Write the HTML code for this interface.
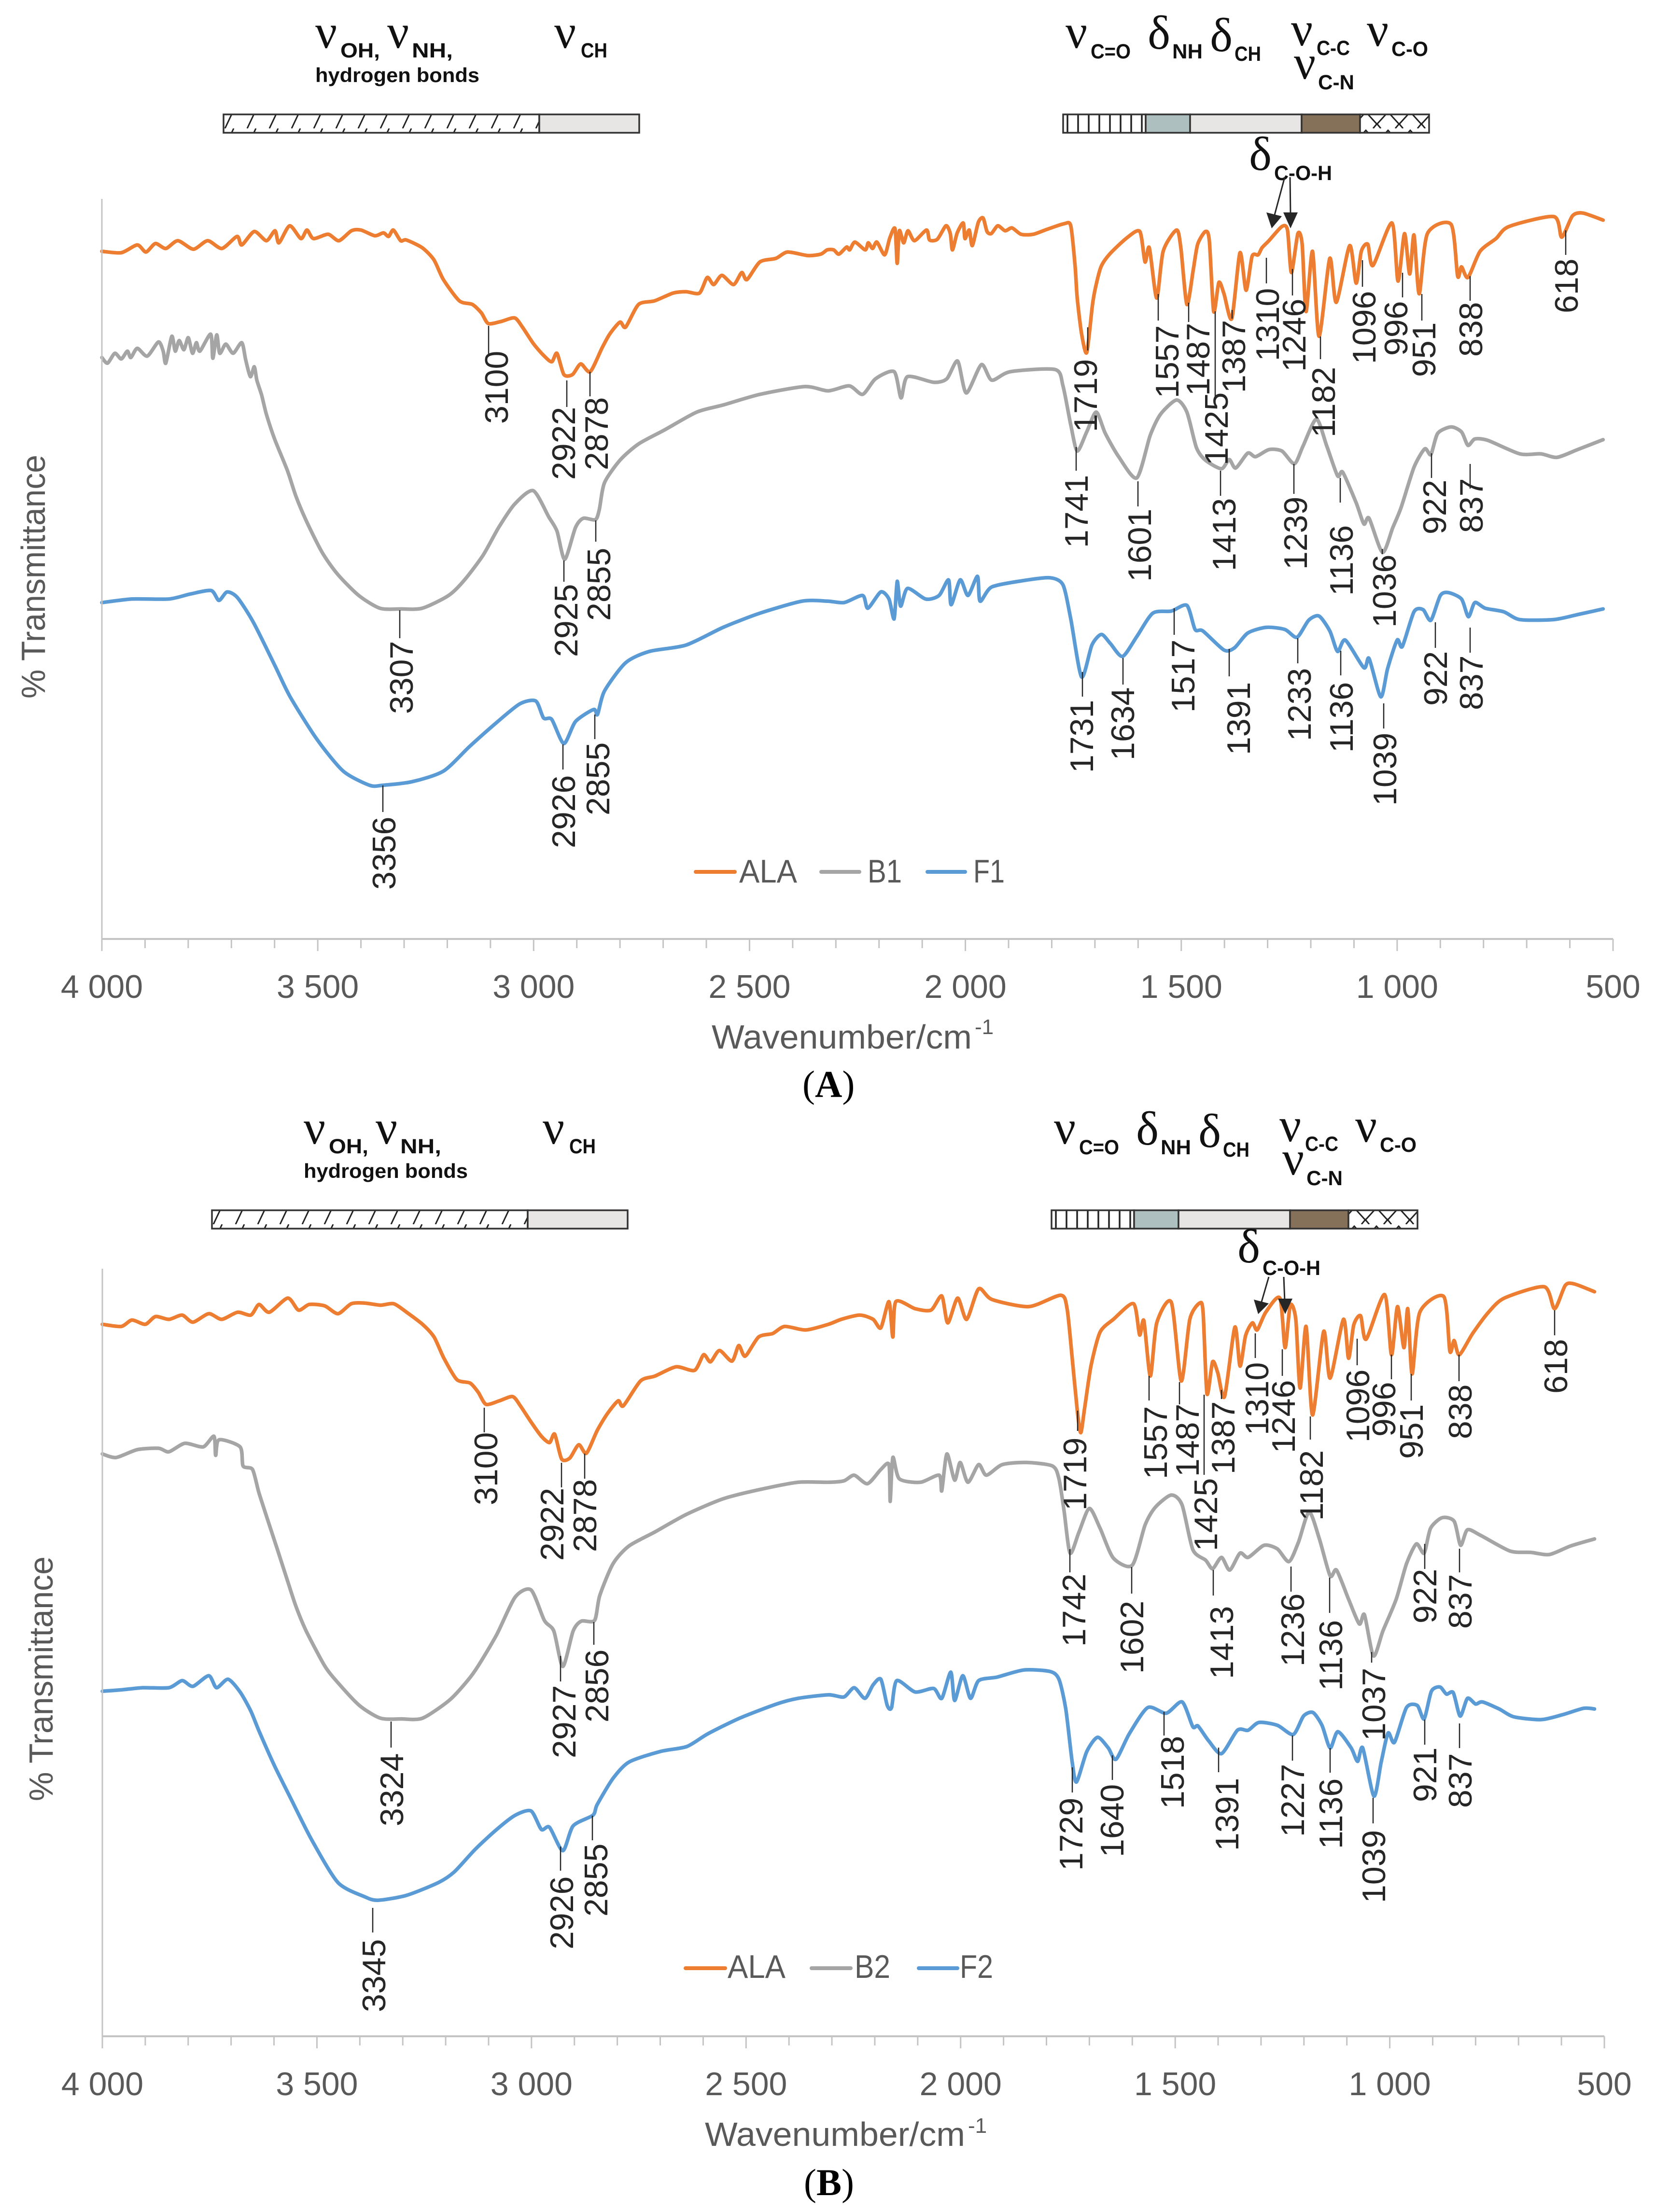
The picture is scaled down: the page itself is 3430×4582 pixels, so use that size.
<!DOCTYPE html>
<html lang="en">
<head>
<meta charset="utf-8">
<title>FTIR spectra of ALA, B1, F1, B2 and F2</title>
<style>
html,body{margin:0;padding:0;background:#fff}
svg{display:block}
.pk{font:68px "Liberation Sans",Arial,sans-serif;fill:#262626}
.ld{stroke:#262626;stroke-width:2.5}
.nu{font:100px "Liberation Serif","Times New Roman",serif;fill:#111}
.sb{font:bold 43px "Liberation Sans",Arial,sans-serif;fill:#111}
.hb{font:bold 42px "Liberation Sans",Arial,sans-serif;fill:#111}
.ax{font:68px "Liberation Sans",Arial,sans-serif;fill:#595959}
.ti{font:70px "Liberation Sans",Arial,sans-serif;fill:#595959}
.sup{font:44px "Liberation Sans",Arial,sans-serif;fill:#595959}
.cap{font:bold 78px "Liberation Serif","Times New Roman",serif;fill:#000}
.bd{stroke:#333;stroke-width:3.5}
</style>
</head>
<body>
<svg id="figure" xmlns="http://www.w3.org/2000/svg" width="3430" height="4582" viewBox="0 0 3430 4582">
<defs>
<pattern id="hatchDiag" width="46" height="38" patternUnits="userSpaceOnUse"><rect width="46" height="38" fill="#fff"/><path d="M6 38L24 0" stroke="#222" stroke-width="3"/></pattern>
<pattern id="hatchVert" width="22" height="38" patternUnits="userSpaceOnUse"><rect width="22" height="38" fill="#fff"/><path d="M11 0V38" stroke="#222" stroke-width="3.5"/></pattern>
<pattern id="hatchCross" width="46" height="38" patternUnits="userSpaceOnUse"><rect width="46" height="38" fill="#fff"/><path d="M-8 38L23 4L54 38M-2 26L8 38M48 26L38 38" stroke="#222" stroke-width="3" fill="none"/></pattern>
</defs>
<rect width="3430" height="4582" fill="#fff"/>

<g id="seriesA"></g>
<g id="seriesB"></g>
<g id="axesA"></g>
<g id="axesB"></g>

<g>
<text class="nu" x="653" y="99">ν</text><text class="sb" x="705" y="119" textLength="82" lengthAdjust="spacingAndGlyphs">OH,</text>
<text class="nu" x="802" y="99">ν</text><text class="sb" x="853" y="119" textLength="85" lengthAdjust="spacingAndGlyphs">NH,</text>
<text class="hb" x="653" y="170" textLength="340" lengthAdjust="spacingAndGlyphs">hydrogen bonds</text>
<text class="nu" x="1148" y="99">ν</text><text class="sb" x="1203" y="119" textLength="55" lengthAdjust="spacingAndGlyphs">CH</text>
<g>
<rect class="bd" x="463" y="237" width="654" height="38" fill="url(#hatchDiag)"/>
<rect class="bd" x="1117" y="237" width="207" height="38" fill="#E7E6E4"/>
</g>
<text class="nu" x="2207" y="99">ν</text><text class="sb" x="2259" y="121" textLength="83" lengthAdjust="spacingAndGlyphs">C=O</text>
<text class="nu" x="2377" y="101">δ</text><text class="sb" x="2428" y="121" textLength="63" lengthAdjust="spacingAndGlyphs">NH</text>
<text class="nu" x="2506" y="106">δ</text><text class="sb" x="2557" y="126" textLength="55" lengthAdjust="spacingAndGlyphs">CH</text>
<text class="nu" x="2674" y="94">ν</text><text class="sb" x="2727" y="114" textLength="69" lengthAdjust="spacingAndGlyphs">C-C</text>
<text class="nu" x="2831" y="95">ν</text><text class="sb" x="2882" y="116" textLength="76" lengthAdjust="spacingAndGlyphs">C-O</text>
<text class="nu" x="2680" y="163">ν</text><text class="sb" x="2730" y="185" textLength="75" lengthAdjust="spacingAndGlyphs">C-N</text>
<g>
<rect class="bd" x="2202" y="237" width="171" height="38" fill="url(#hatchVert)"/>
<rect class="bd" x="2373" y="237" width="92" height="38" fill="#AEBFC0"/>
<rect class="bd" x="2465" y="237" width="231" height="38" fill="#E7E6E4"/>
<rect class="bd" x="2696" y="237" width="121" height="38" fill="#85705A"/>
<rect class="bd" x="2817" y="237" width="143" height="38" fill="url(#hatchCross)"/>
</g>
<text class="nu" x="2587" y="352">δ</text><text class="sb" x="2639" y="373" textLength="120" lengthAdjust="spacingAndGlyphs">C-O-H</text>
<g>
<line x1="2661" y1="367" x2="2640" y2="445" stroke="#262626" stroke-width="3"/>
<polygon points="2634,473 2623,440 2655,448" fill="#262626"/>
<line x1="2672" y1="367" x2="2673" y2="445" stroke="#262626" stroke-width="3"/>
<polygon points="2673,473 2658,440 2688,440" fill="#262626"/>
</g>
</g>

<g transform="translate(-24,2270)">
<text class="nu" x="653" y="99">ν</text><text class="sb" x="705" y="119" textLength="82" lengthAdjust="spacingAndGlyphs">OH,</text>
<text class="nu" x="802" y="99">ν</text><text class="sb" x="853" y="119" textLength="85" lengthAdjust="spacingAndGlyphs">NH,</text>
<text class="hb" x="653" y="170" textLength="340" lengthAdjust="spacingAndGlyphs">hydrogen bonds</text>
<text class="nu" x="1148" y="99">ν</text><text class="sb" x="1203" y="119" textLength="55" lengthAdjust="spacingAndGlyphs">CH</text>
<g>
<rect class="bd" x="463" y="237" width="654" height="38" fill="url(#hatchDiag)"/>
<rect class="bd" x="1117" y="237" width="207" height="38" fill="#E7E6E4"/>
</g>
<text class="nu" x="2207" y="99">ν</text><text class="sb" x="2259" y="121" textLength="83" lengthAdjust="spacingAndGlyphs">C=O</text>
<text class="nu" x="2377" y="101">δ</text><text class="sb" x="2428" y="121" textLength="63" lengthAdjust="spacingAndGlyphs">NH</text>
<text class="nu" x="2506" y="106">δ</text><text class="sb" x="2557" y="126" textLength="55" lengthAdjust="spacingAndGlyphs">CH</text>
<text class="nu" x="2674" y="94">ν</text><text class="sb" x="2727" y="114" textLength="69" lengthAdjust="spacingAndGlyphs">C-C</text>
<text class="nu" x="2831" y="95">ν</text><text class="sb" x="2882" y="116" textLength="76" lengthAdjust="spacingAndGlyphs">C-O</text>
<text class="nu" x="2680" y="163">ν</text><text class="sb" x="2730" y="185" textLength="75" lengthAdjust="spacingAndGlyphs">C-N</text>
<g>
<rect class="bd" x="2202" y="237" width="171" height="38" fill="url(#hatchVert)"/>
<rect class="bd" x="2373" y="237" width="92" height="38" fill="#AEBFC0"/>
<rect class="bd" x="2465" y="237" width="231" height="38" fill="#E7E6E4"/>
<rect class="bd" x="2696" y="237" width="121" height="38" fill="#85705A"/>
<rect class="bd" x="2817" y="237" width="143" height="38" fill="url(#hatchCross)"/>
</g>
<text class="nu" x="2587" y="345">δ</text><text class="sb" x="2639" y="371" textLength="120" lengthAdjust="spacingAndGlyphs">C-O-H</text>
</g>
<g>
<line x1="2628" y1="2645" x2="2612" y2="2700" stroke="#262626" stroke-width="3"/>
<polygon points="2606,2722 2597,2692 2628,2700" fill="#262626"/>
<line x1="2659" y1="2645" x2="2661" y2="2695" stroke="#262626" stroke-width="3"/>
<polygon points="2662,2722 2647,2690 2677,2690" fill="#262626"/>
</g>

<g>
<g><line class="ld" x1="1012" y1="675" x2="1012" y2="733"/><text class="pk" transform="translate(1052,878) rotate(-90)">3100</text></g>
<g><line class="ld" x1="1174" y1="788" x2="1174" y2="843"/><text class="pk" transform="translate(1191,994) rotate(-90)">2922</text></g>
<g><line class="ld" x1="1222" y1="770" x2="1222" y2="821"/><text class="pk" transform="translate(1259,974) rotate(-90)">2878</text></g>
<g><line class="ld" x1="2253" y1="678" x2="2253" y2="726"/><text class="pk" transform="translate(2272,895) rotate(-90)">1719</text></g>
<g><line class="ld" x1="2399" y1="609" x2="2399" y2="664"/><text class="pk" transform="translate(2441,825) rotate(-90)">1557</text></g>
<g><line class="ld" x1="2462" y1="627" x2="2462" y2="667"/><text class="pk" transform="translate(2505,820) rotate(-90)">1487</text></g>
<g><line class="ld" x1="2517" y1="645" x2="2517" y2="821"/><text class="pk" transform="translate(2543,964) rotate(-90)">1425</text></g>
<g><line class="ld" x1="2552" y1="642" x2="2552" y2="660"/><text class="pk" transform="translate(2579,814) rotate(-90)">1387</text></g>
<g><line class="ld" x1="2623" y1="534" x2="2623" y2="587"/><text class="pk" transform="translate(2649,748) rotate(-90)">1310</text></g>
<g><line class="ld" x1="2677" y1="557" x2="2677" y2="612"/><text class="pk" transform="translate(2704,770) rotate(-90)">1246</text></g>
<g><line class="ld" x1="2735" y1="697" x2="2735" y2="744"/><text class="pk" transform="translate(2765,906) rotate(-90)">1182</text></g>
<g><line class="ld" x1="2822" y1="539" x2="2822" y2="594"/><text class="pk" transform="translate(2849,754) rotate(-90)">1096</text></g>
<g><line class="ld" x1="2905" y1="565" x2="2905" y2="616"/><text class="pk" transform="translate(2915,737) rotate(-90)">996</text></g>
<g><line class="ld" x1="2945" y1="609" x2="2945" y2="664"/><text class="pk" transform="translate(2973,781) rotate(-90)">951</text></g>
<g><line class="ld" x1="3045" y1="572" x2="3045" y2="623"/><text class="pk" transform="translate(3070,739) rotate(-90)">838</text></g>
<g><line class="ld" x1="3243" y1="477" x2="3243" y2="528"/><text class="pk" transform="translate(3268,649) rotate(-90)">618</text></g>

<g><line class="ld" x1="828" y1="1264" x2="828" y2="1322"/><text class="pk" transform="translate(855,1479) rotate(-90)">3307</text></g>
<g><line class="ld" x1="1168" y1="1161" x2="1168" y2="1205"/><text class="pk" transform="translate(1196,1361) rotate(-90)">2925</text></g>
<g><line class="ld" x1="1234" y1="1078" x2="1234" y2="1122"/><text class="pk" transform="translate(1264,1286) rotate(-90)">2855</text></g>
<g><line class="ld" x1="2229" y1="926" x2="2229" y2="975"/><text class="pk" transform="translate(2253,1135) rotate(-90)">1741</text></g>
<g><line class="ld" x1="2357" y1="997" x2="2357" y2="1049"/><text class="pk" transform="translate(2384,1205) rotate(-90)">1601</text></g>
<g><line class="ld" x1="2528" y1="975" x2="2528" y2="1027"/><text class="pk" transform="translate(2559,1183) rotate(-90)">1413</text></g>
<g><line class="ld" x1="2680" y1="961" x2="2680" y2="1023"/><text class="pk" transform="translate(2707,1180) rotate(-90)">1239</text></g>
<g><line class="ld" x1="2776" y1="990" x2="2776" y2="1041"/><text class="pk" transform="translate(2802,1234) rotate(-90)">1136</text></g>
<g><line class="ld" x1="2863" y1="1137" x2="2863" y2="1148"/><text class="pk" transform="translate(2891,1300) rotate(-90)">1036</text></g>
<g><line class="ld" x1="2965" y1="939" x2="2965" y2="990"/><text class="pk" transform="translate(2995,1107) rotate(-90)">922</text></g>
<g><line class="ld" x1="3045" y1="961" x2="3045" y2="1012"/><text class="pk" transform="translate(3071,1104) rotate(-90)">837</text></g>

<g><line class="ld" x1="793" y1="1627" x2="793" y2="1682"/><text class="pk" transform="translate(819,1843) rotate(-90)">3356</text></g>
<g><line class="ld" x1="1166" y1="1542" x2="1166" y2="1594"/><text class="pk" transform="translate(1191,1757) rotate(-90)">2926</text></g>
<g><line class="ld" x1="1232" y1="1480" x2="1232" y2="1531"/><text class="pk" transform="translate(1262,1689) rotate(-90)">2855</text></g>
<g><line class="ld" x1="2242" y1="1392" x2="2242" y2="1443"/><text class="pk" transform="translate(2264,1601) rotate(-90)">1731</text></g>
<g><line class="ld" x1="2326" y1="1363" x2="2326" y2="1418"/><text class="pk" transform="translate(2349,1575) rotate(-90)">1634</text></g>
<g><line class="ld" x1="2432" y1="1260" x2="2432" y2="1315"/><text class="pk" transform="translate(2474,1476) rotate(-90)">1517</text></g>
<g><line class="ld" x1="2546" y1="1344" x2="2546" y2="1401"/><text class="pk" transform="translate(2589,1564) rotate(-90)">1391</text></g>
<g><line class="ld" x1="2688" y1="1322" x2="2688" y2="1374"/><text class="pk" transform="translate(2715,1535) rotate(-90)">1233</text></g>
<g><line class="ld" x1="2777" y1="1348" x2="2777" y2="1399"/><text class="pk" transform="translate(2802,1559) rotate(-90)">1136</text></g>
<g><line class="ld" x1="2866" y1="1457" x2="2866" y2="1509"/><text class="pk" transform="translate(2892,1669) rotate(-90)">1039</text></g>
<g><line class="ld" x1="2973" y1="1289" x2="2973" y2="1342"/><text class="pk" transform="translate(2997,1462) rotate(-90)">922</text></g>
<g><line class="ld" x1="3045" y1="1300" x2="3045" y2="1352"/><text class="pk" transform="translate(3071,1471) rotate(-90)">837</text></g>
</g>

<g>
<g><line class="ld" x1="1003" y1="2916" x2="1003" y2="2967"/><text class="pk" transform="translate(1030,3118) rotate(-90)">3100</text></g>
<g><line class="ld" x1="1163" y1="3030" x2="1163" y2="3081"/><text class="pk" transform="translate(1167,3233) rotate(-90)">2922</text></g>
<g><line class="ld" x1="1211" y1="3011" x2="1211" y2="3063"/><text class="pk" transform="translate(1235,3215) rotate(-90)">2878</text></g>
<g><line class="ld" x1="2232" y1="2922" x2="2232" y2="2964"/><text class="pk" transform="translate(2250,3129) rotate(-90)">1719</text></g>
<g><line class="ld" x1="2380" y1="2850" x2="2380" y2="2901"/><text class="pk" transform="translate(2417,3064) rotate(-90)">1557</text></g>
<g><line class="ld" x1="2443" y1="2863" x2="2443" y2="2909"/><text class="pk" transform="translate(2483,3059) rotate(-90)">1487</text></g>
<g><line class="ld" x1="2494" y1="2889" x2="2494" y2="3055"/><text class="pk" transform="translate(2521,3213) rotate(-90)">1425</text></g>
<g><line class="ld" x1="2530" y1="2879" x2="2530" y2="2898"/><text class="pk" transform="translate(2557,3054) rotate(-90)">1387</text></g>
<g><line class="ld" x1="2600" y1="2762" x2="2600" y2="2813"/><text class="pk" transform="translate(2627,2973) rotate(-90)">1310</text></g>
<g><line class="ld" x1="2656" y1="2795" x2="2656" y2="2850"/><text class="pk" transform="translate(2682,3010) rotate(-90)">1246</text></g>
<g><line class="ld" x1="2714" y1="2934" x2="2714" y2="2982"/><text class="pk" transform="translate(2740,3150) rotate(-90)">1182</text></g>
<g><line class="ld" x1="2811" y1="2773" x2="2811" y2="2828"/><text class="pk" transform="translate(2836,2988) rotate(-90)">1096</text></g>
<g><line class="ld" x1="2882" y1="2806" x2="2882" y2="2857"/><text class="pk" transform="translate(2890,2976) rotate(-90)">996</text></g>
<g><line class="ld" x1="2923" y1="2846" x2="2923" y2="2901"/><text class="pk" transform="translate(2947,3022) rotate(-90)">951</text></g>
<g><line class="ld" x1="3022" y1="2806" x2="3022" y2="2861"/><text class="pk" transform="translate(3048,2981) rotate(-90)">838</text></g>
<g><line class="ld" x1="3220" y1="2714" x2="3220" y2="2766"/><text class="pk" transform="translate(3246,2887) rotate(-90)">618</text></g>

<g><line class="ld" x1="810" y1="3566" x2="810" y2="3620"/><text class="pk" transform="translate(835,3783) rotate(-90)">3324</text></g>
<g><line class="ld" x1="1161" y1="3430" x2="1161" y2="3483"/><text class="pk" transform="translate(1192,3642) rotate(-90)">2927</text></g>
<g><line class="ld" x1="1230" y1="3360" x2="1230" y2="3407"/><text class="pk" transform="translate(1260,3568) rotate(-90)">2856</text></g>
<g><line class="ld" x1="2216" y1="3209" x2="2216" y2="3257"/><text class="pk" transform="translate(2248,3411) rotate(-90)">1742</text></g>
<g><line class="ld" x1="2344" y1="3246" x2="2344" y2="3301"/><text class="pk" transform="translate(2368,3467) rotate(-90)">1602</text></g>
<g><line class="ld" x1="2513" y1="3252" x2="2513" y2="3305"/><text class="pk" transform="translate(2554,3478) rotate(-90)">1413</text></g>
<g><line class="ld" x1="2674" y1="3245" x2="2674" y2="3297"/><text class="pk" transform="translate(2701,3452) rotate(-90)">1236</text></g>
<g><line class="ld" x1="2754" y1="3268" x2="2754" y2="3341"/><text class="pk" transform="translate(2780,3502) rotate(-90)">1136</text></g>
<g><line class="ld" x1="2841" y1="3422" x2="2841" y2="3444"/><text class="pk" transform="translate(2869,3606) rotate(-90)">1037</text></g>
<g><line class="ld" x1="2951" y1="3198" x2="2951" y2="3250"/><text class="pk" transform="translate(2975,3363) rotate(-90)">922</text></g>
<g><line class="ld" x1="3023" y1="3208" x2="3023" y2="3257"/><text class="pk" transform="translate(3048,3374) rotate(-90)">837</text></g>

<g><line class="ld" x1="772" y1="3952" x2="772" y2="4003"/><text class="pk" transform="translate(798,4168) rotate(-90)">3345</text></g>
<g><line class="ld" x1="1161" y1="3825" x2="1161" y2="3875"/><text class="pk" transform="translate(1187,4038) rotate(-90)">2926</text></g>
<g><line class="ld" x1="1227" y1="3761" x2="1227" y2="3812"/><text class="pk" transform="translate(1258,3970) rotate(-90)">2855</text></g>
<g><line class="ld" x1="2221" y1="3661" x2="2221" y2="3713"/><text class="pk" transform="translate(2242,3875) rotate(-90)">1729</text></g>
<g><line class="ld" x1="2304" y1="3636" x2="2304" y2="3687"/><text class="pk" transform="translate(2327,3847) rotate(-90)">1640</text></g>
<g><line class="ld" x1="2411" y1="3546" x2="2411" y2="3595"/><text class="pk" transform="translate(2452,3747) rotate(-90)">1518</text></g>
<g><line class="ld" x1="2524" y1="3620" x2="2524" y2="3671"/><text class="pk" transform="translate(2565,3834) rotate(-90)">1391</text></g>
<g><line class="ld" x1="2677" y1="3595" x2="2677" y2="3647"/><text class="pk" transform="translate(2701,3805) rotate(-90)">1227</text></g>
<g><line class="ld" x1="2755" y1="3621" x2="2755" y2="3672"/><text class="pk" transform="translate(2780,3830) rotate(-90)">1136</text></g>
<g><line class="ld" x1="2844" y1="3724" x2="2844" y2="3777"/><text class="pk" transform="translate(2869,3942) rotate(-90)">1039</text></g>
<g><line class="ld" x1="2951" y1="3562" x2="2951" y2="3614"/><text class="pk" transform="translate(2975,3733) rotate(-90)">921</text></g>
<g><line class="ld" x1="3023" y1="3570" x2="3023" y2="3621"/><text class="pk" transform="translate(3048,3745) rotate(-90)">837</text></g>
</g>

<g>
<g><line x1="1441" y1="1806" x2="1522" y2="1806" stroke="#ED7D31" stroke-width="8" stroke-linecap="round"/><text class="ax" x="1531" y="1828" textLength="120" lengthAdjust="spacingAndGlyphs">ALA</text></g>
<g><line x1="1701" y1="1806" x2="1780" y2="1806" stroke="#A5A5A5" stroke-width="8" stroke-linecap="round"/><text class="ax" x="1797" y="1828" textLength="71" lengthAdjust="spacingAndGlyphs">B1</text></g>
<g><line x1="1921" y1="1806" x2="1999" y2="1806" stroke="#5B9BD5" stroke-width="8" stroke-linecap="round"/><text class="ax" x="2016" y="1828" textLength="65" lengthAdjust="spacingAndGlyphs">F1</text></g>
</g>
<g>
<g><line x1="1420" y1="4077" x2="1502" y2="4077" stroke="#ED7D31" stroke-width="8" stroke-linecap="round"/><text class="ax" x="1507" y="4097" textLength="120" lengthAdjust="spacingAndGlyphs">ALA</text></g>
<g><line x1="1681" y1="4077" x2="1762" y2="4077" stroke="#A5A5A5" stroke-width="8" stroke-linecap="round"/><text class="ax" x="1770" y="4097" textLength="74" lengthAdjust="spacingAndGlyphs">B2</text></g>
<g><line x1="1903" y1="4077" x2="1983" y2="4077" stroke="#5B9BD5" stroke-width="8" stroke-linecap="round"/><text class="ax" x="1988" y="4097" textLength="69" lengthAdjust="spacingAndGlyphs">F2</text></g>
</g>

<text class="ti" x="1474" y="2172" textLength="539" lengthAdjust="spacingAndGlyphs">Wavenumber/cm</text>
<text class="sup" x="2019" y="2142">-1</text>
<text class="ti" x="1460" y="4445" textLength="539" lengthAdjust="spacingAndGlyphs">Wavenumber/cm</text>
<text class="sup" x="2005" y="4418">-1</text>
<text class="ti" transform="translate(93,1447) rotate(-90)" textLength="505" lengthAdjust="spacingAndGlyphs">% Transmittance</text>
<text class="ti" transform="translate(109,3731) rotate(-90)" textLength="507" lengthAdjust="spacingAndGlyphs">% Transmittance</text>
<text class="cap" x="1662" y="2272"><tspan font-weight="normal">(</tspan>A<tspan font-weight="normal">)</tspan></text>
<text class="cap" x="1665" y="4547"><tspan font-weight="normal">(</tspan>B<tspan font-weight="normal">)</tspan></text>
</svg>

<script>
// Shared x axis
const axisTicks = [4000,3900,3800,3700,3600,3500,3400,3300,3200,3100,3000,2900,2800,2700,2600,2500,2400,2300,2200,2100,2000,1900,1800,1700,1600,1500,1400,1300,1200,1100,1000,900,800,700,600,500];
const axisMajorTicks = [4000,3500,3000,2500,2000,1500,1000,500];
const axisMajorLabels = ["4 000","3 500","3 000","2 500","2 000","1 500","1 000","500"];

// Panel A, ALA: wavenumber (cm-1) and transmittance (arbitrary offset %)
const alaAWn = [4000,3955,3918,3898,3876,3852,3824,3788,3755,3722,3687,3676,3647,3619,3599,3590,3565,3539,3525,3510,3476,3451,3422,3400,3368,3348,3336,3325,3308,3295,3258,3231,3209,3172,3142,3121,3105,3075,3044,3026,3001,2977,2958,2946,2930,2910,2891,2869,2842,2824,2800,2787,2757,2720,2677,2647,2616,2598,2583,2564,2537,2518,2506,2476,2439,2412,2365,2335,2320,2305,2293,2275,2268,2256,2232,2225,2215,2205,2187,2175,2163,2158,2153,2143,2133,2118,2090,2083,2065,2045,2035,2030,2019,2005,2001,1991,1984,1970,1959,1950,1940,1925,1908,1892,1871,1843,1811,1771,1756,1746,1741,1731,1719,1706,1699,1686,1666,1626,1596,1584,1574,1557,1542,1511,1501,1487,1472,1462,1444,1435,1425,1413,1401,1383,1364,1350,1336,1322,1313,1297,1267,1254,1245,1230,1220,1211,1196,1181,1156,1141,1110,1095,1083,1068,1056,1012,998,983,971,961,949,930,875,860,851,836,808,771,741,637,619,594,570,523];
const alaAT = [97.1,96.9,98.0,97.0,98.2,97.5,98.6,97.4,98.6,97.5,99.2,98.0,99.9,98.6,100.0,98.3,100.7,98.9,100.1,98.9,99.5,98.6,100.0,100.1,99.3,99.7,99.2,100.1,98.6,98.7,97.6,95.9,93.1,90.1,89.6,88.4,86.9,87.2,87.7,86.4,84.1,82.4,81.5,82.7,79.7,79.7,81.2,80.1,83.4,85.4,87.1,86.4,89.6,90.1,91.2,91.4,91.2,93.4,92.4,93.7,92.4,94.1,93.1,95.6,96.1,97.0,96.5,96.7,97.3,97.3,96.7,97.7,97.3,98.4,97.3,98.3,97.5,98.4,96.6,99.0,100.3,95.4,100.0,98.3,100.0,98.6,100.1,98.7,98.8,100.7,99.6,97.3,99.7,101.1,98.9,100.1,97.9,101.2,101.8,99.9,99.6,100.7,100.0,100.4,99.5,99.5,100.2,101.0,100.7,95.1,90.5,85.5,82.8,89.4,91.9,94.9,96.7,99.0,99.9,95.6,97.6,90.5,97.1,100.1,97.6,89.6,94.6,98.1,99.9,98.6,88.6,92.7,91.1,87.6,96.9,91.6,96.4,96.6,97.6,98.6,100.6,100.1,94.1,99.6,98.1,88.6,97.1,85.1,96.1,89.9,97.9,92.6,97.1,98.1,95.1,101.1,92.9,99.6,93.9,99.4,91.1,99.6,100.9,93.6,94.9,93.4,97.1,98.9,100.6,102.0,99.1,102.1,102.5,101.5];

// Panel A, B1
const b1Wn = [4000,3987,3970,3955,3941,3933,3918,3895,3869,3858,3852,3838,3830,3821,3810,3800,3790,3781,3773,3748,3743,3734,3727,3713,3696,3676,3667,3656,3647,3641,3630,3619,3600,3570,3551,3527,3490,3454,3405,3356,3307,3258,3197,3160,3117,3081,3044,3001,2965,2946,2928,2903,2885,2857,2848,2836,2800,2757,2696,2622,2561,2476,2372,2318,2269,2238,2208,2165,2149,2134,2073,2043,2018,1998,1963,1939,1896,1792,1774,1756,1741,1719,1697,1676,1645,1603,1572,1548,1511,1487,1465,1444,1407,1389,1374,1346,1328,1297,1267,1238,1218,1187,1163,1138,1126,1095,1077,1065,1034,1010,991,961,936,922,906,875,851,836,820,790,716,667,630,582,523];
const b1T = [82.1,81.3,82.7,81.9,83.0,82.1,83.4,82.3,84.3,83.0,81.3,85.1,83.0,84.5,83.2,84.9,82.7,84.2,83.0,85.4,82.0,85.3,82.7,84.0,82.7,84.2,81.8,79.4,80.8,78.9,76.8,74.1,70.6,66.1,62.6,59.1,54.6,51.5,48.5,46.7,46.6,46.7,48.5,50.7,54.2,58.1,61.4,63.3,59.6,57.6,53.6,58.1,59.4,59.2,60.6,64.4,67.6,69.9,71.9,74.4,75.4,76.9,78.0,77.4,78.1,76.9,79.1,80.1,76.4,79.4,78.6,79.1,81.6,77.1,81.1,78.9,80.1,80.4,78.1,72.6,68.9,71.6,74.4,71.4,68.1,65.1,71.1,74.1,76.1,74.4,69.4,67.6,66.4,67.7,66.5,68.6,68.1,69.1,68.9,67.1,69.6,73.4,69.6,65.4,65.9,61.6,58.6,59.4,54.6,58.1,60.9,66.6,69.2,68.4,71.4,72.3,71.6,69.7,70.6,70.4,68.5,68.5,68.0,69.1,70.5];

// Panel A, F1
const f1Wn = [4000,3930,3845,3796,3747,3729,3710,3686,3649,3600,3564,3502,3441,3380,3350,3282,3209,3148,3087,3032,2995,2977,2958,2930,2903,2861,2852,2836,2787,2732,2647,2561,2476,2378,2319,2281,2238,2226,2196,2177,2165,2158,2150,2134,2092,2061,2039,2033,2012,1994,1972,1966,1939,1866,1804,1774,1756,1731,1707,1685,1664,1636,1603,1566,1523,1487,1468,1450,1401,1377,1346,1303,1260,1232,1205,1181,1156,1138,1120,1077,1065,1038,1022,1000,988,961,940,922,900,881,851,835,820,796,753,716,637,582,523];
const f1T = [47.5,48.0,48.0,48.7,49.2,47.8,49.0,48.2,44.7,38.7,34.2,28.2,23.7,21.7,21.7,22.2,23.7,27.2,30.5,33.2,33.6,31.2,31.0,27.6,30.7,32.4,31.7,35.0,39.0,40.6,41.5,44.0,46.0,47.7,47.7,47.5,48.5,46.7,49.0,48.0,45.2,50.5,47.0,49.5,48.0,48.5,50.7,47.2,50.7,48.5,51.2,47.7,49.7,50.6,51.0,50.0,45.2,37.0,41.5,43.0,41.7,39.9,42.7,46.0,46.3,47.1,43.7,43.5,40.8,41.1,43.2,44.0,43.7,42.6,45.0,45.6,43.5,40.6,42.2,38.3,39.6,34.2,38.2,42.2,41.3,46.2,46.5,45.0,48.5,48.9,48.0,45.5,47.5,46.7,46.2,45.1,45.1,45.8,46.6];

// Panel B, ALA
const alaBWn = [4000,3956,3931,3900,3876,3845,3814,3789,3752,3722,3685,3654,3635,3611,3568,3543,3518,3482,3451,3420,3389,3352,3321,3291,3254,3227,3204,3174,3143,3124,3106,3075,3044,3026,3001,2977,2958,2946,2930,2911,2890,2872,2847,2823,2798,2786,2746,2712,2663,2620,2599,2583,2562,2533,2517,2502,2471,2438,2410,2361,2308,2278,2235,2204,2186,2167,2158,2151,2106,2069,2044,2030,2007,1986,1958,1927,1841,1767,1752,1740,1728,1720,1711,1696,1675,1644,1597,1583,1573,1558,1543,1509,1486,1466,1443,1435,1426,1413,1401,1385,1361,1349,1336,1320,1309,1289,1256,1244,1232,1219,1209,1195,1180,1154,1139,1108,1096,1084,1068,1055,1012,996,982,967,958,948,930,874,860,850,838,807,770,733,640,616,591,570,523];
const alaBT = [100.5,100.2,101.1,100.5,101.6,101.2,101.8,100.8,102.0,101.2,102.2,101.8,103.3,102.2,104.2,102.5,103.3,103.1,102.0,103.4,103.5,103.2,103.4,102.2,100.5,98.7,95.7,92.7,92.2,90.9,89.2,89.7,90.3,89.0,86.7,84.7,83.8,85.0,81.5,81.6,83.5,82.3,85.5,87.9,89.7,89.0,92.5,93.2,94.5,94.0,96.2,95.2,96.8,95.3,97.5,96.0,98.7,99.2,100.2,99.7,100.5,101.2,101.8,101.2,100.0,103.7,98.7,103.7,102.7,102.5,104.5,100.7,104.2,101.2,105.5,104.0,103.0,104.6,102.7,95.7,88.2,85.2,88.7,94.7,99.4,101.2,103.4,99.0,101.0,93.2,100.7,103.6,92.5,101.2,103.5,102.2,90.7,95.2,93.7,90.3,100.1,94.6,98.9,100.7,99.7,102.2,104.2,97.2,103.2,101.2,91.5,100.2,87.7,99.5,92.9,101.2,95.7,100.4,101.7,98.4,104.7,96.2,103.0,97.2,102.7,93.5,102.2,104.4,96.7,98.2,96.2,99.2,102.2,104.2,105.8,102.7,106.0,106.2,105.1];

// Panel B, B2
const b2Wn = [4000,3968,3919,3869,3845,3808,3765,3740,3736,3728,3679,3672,3650,3635,3611,3592,3568,3549,3525,3482,3451,3401,3352,3303,3254,3192,3149,3124,3081,3038,3001,2970,2948,2927,2903,2884,2853,2841,2810,2773,2712,2638,2552,2466,2379,2308,2272,2248,2217,2186,2167,2164,2158,2143,2094,2050,2044,2032,2014,2001,1983,1958,1940,1903,1847,1786,1771,1759,1745,1724,1700,1675,1644,1600,1570,1546,1509,1484,1459,1429,1413,1392,1373,1349,1330,1293,1262,1235,1213,1188,1164,1139,1124,1096,1071,1059,1038,1016,985,961,938,920,905,878,850,835,819,788,720,671,628,579,523];
const b2T = [82.2,81.7,82.8,83.0,82.5,83.7,83.2,84.7,82.0,84.2,83.2,80.5,80.0,76.7,72.2,68.7,64.2,60.7,57.2,52.3,49.9,46.7,44.9,44.8,44.9,47.4,50.2,52.3,56.7,62.0,63.0,58.7,57.2,52.2,57.2,58.6,58.7,62.2,66.7,69.2,71.2,73.7,75.9,77.2,78.2,78.2,78.4,79.2,78.0,80.0,80.7,75.5,81.7,78.7,78.2,79.2,77.0,82.2,78.5,81.0,78.2,80.7,79.2,80.7,81.0,80.5,78.7,74.2,68.2,71.2,74.5,71.7,67.5,66.5,72.2,74.7,76.4,75.0,68.7,67.2,66.0,67.6,65.8,68.2,67.6,69.3,68.8,67.0,69.7,74.0,70.2,65.0,65.8,61.7,58.2,59.5,53.7,57.2,61.7,66.7,69.5,68.2,71.7,73.2,72.7,69.3,71.5,70.7,68.5,68.3,68.0,69.2,70.2];

// Panel B, F2
const f2Wn = [4000,3956,3906,3845,3814,3789,3752,3734,3707,3679,3654,3635,3599,3562,3512,3451,3389,3358,3291,3217,3180,3131,3081,3038,3001,2977,2958,2927,2903,2857,2847,2810,2773,2700,2638,2589,2515,2429,2379,2308,2272,2248,2223,2204,2186,2171,2161,2149,2106,2063,2044,2023,2014,1995,1977,1958,1915,1853,1792,1771,1755,1740,1730,1706,1681,1656,1638,1607,1564,1521,1484,1459,1447,1422,1392,1355,1330,1305,1262,1225,1201,1179,1158,1139,1121,1090,1075,1063,1037,1020,1004,989,961,936,920,903,883,868,852,836,819,800,784,745,711,647,597,548,523];
const f2T = [48.7,48.9,49.2,49.2,50.2,49.4,50.9,49.2,50.4,48.6,45.9,43.1,38.2,33.7,27.7,21.7,19.7,19.2,19.9,21.7,23.2,26.4,29.2,31.2,31.8,29.2,29.5,26.2,29.7,31.2,32.7,36.4,38.7,40.2,40.9,42.7,44.9,46.9,47.7,48.2,47.9,49.2,47.7,49.6,50.4,46.7,46.4,50.2,48.6,49.1,47.7,51.4,47.4,50.9,47.7,50.2,50.7,51.7,51.5,50.4,46.2,38.7,35.9,40.2,42.2,40.7,39.1,42.7,46.4,45.6,47.2,43.7,43.8,41.7,39.9,43.2,43.2,44.3,43.9,42.6,45.2,45.7,43.9,40.7,43.0,40.7,38.8,40.7,33.9,38.7,42.8,41.5,46.4,46.7,44.8,48.7,49.3,48.3,48.5,45.2,47.7,46.9,47.2,46.2,45.1,44.7,45.4,46.3,46.2];

const SVG_NS = "http://www.w3.org/2000/svg";

function makeScale(d0, d1, r0, r1) {
  return function (v) { return r0 + (v - d0) * (r1 - r0) / (d1 - d0); };
}

// Panel A axis functions
const xA = makeScale(4000, 500, 211, 3341);
const yA = makeScale(0, 104.5, 1945, 412);
// Panel B axis functions
const xB = makeScale(4000, 500, 212, 3323);
const yB = makeScale(0, 108.35, 4218, 2628);

function smoothPath(xs, ys) {
  const k = 1 / 8;
  let d = "M" + xs[0].toFixed(1) + " " + ys[0].toFixed(1);
  for (let i = 0; i < xs.length - 1; i++) {
    const i0 = Math.max(i - 1, 0), i3 = Math.min(i + 2, xs.length - 1);
    const c1x = xs[i] + (xs[i + 1] - xs[i0]) * k, c1y = ys[i] + (ys[i + 1] - ys[i0]) * k;
    const c2x = xs[i + 1] - (xs[i3] - xs[i]) * k, c2y = ys[i + 1] - (ys[i3] - ys[i]) * k;
    d += "C" + c1x.toFixed(1) + " " + c1y.toFixed(1) + " " + c2x.toFixed(1) + " " + c2y.toFixed(1) + " " + xs[i + 1].toFixed(1) + " " + ys[i + 1].toFixed(1);
  }
  return d;
}

function drawSeries(parentId, name, color, wn, t, xf, yf) {
  const el = document.createElementNS(SVG_NS, "path");
  
  
  el.setAttribute("d", smoothPath(wn.map(xf), t.map(yf)));
  el.setAttribute("fill", "none");
  el.setAttribute("stroke", color);
  el.setAttribute("stroke-width", "7.5");
  el.setAttribute("stroke-linejoin", "round");
  el.setAttribute("stroke-linecap", "round");
  document.getElementById(parentId).appendChild(el);
}

function drawAxes(parentId, xf, baseY, topY, labelY) {
  const parent = document.getElementById(parentId);
  const xLine = document.createElementNS(SVG_NS, "line");
  
  
  xLine.setAttribute("x1", xf(4000));
  xLine.setAttribute("x2", xf(500));
  xLine.setAttribute("y1", baseY);
  xLine.setAttribute("y2", baseY);
  xLine.setAttribute("stroke", "#C4C4C4");
  xLine.setAttribute("stroke-width", "4");
  parent.appendChild(xLine);

  const yLine = document.createElementNS(SVG_NS, "line");
  
  
  yLine.setAttribute("x1", xf(4000));
  yLine.setAttribute("x2", xf(4000));
  yLine.setAttribute("y1", topY);
  yLine.setAttribute("y2", baseY);
  yLine.setAttribute("stroke", "#C4C4C4");
  yLine.setAttribute("stroke-width", "3");
  parent.appendChild(yLine);

  axisTicks.forEach(function (wn) {
    const major = axisMajorTicks.indexOf(wn) >= 0;
    const tick = document.createElementNS(SVG_NS, "line");
    
    
    tick.setAttribute("x1", xf(wn));
    tick.setAttribute("x2", xf(wn));
    tick.setAttribute("y1", baseY);
    tick.setAttribute("y2", baseY + (major ? 25 : 19));
    tick.setAttribute("stroke", "#C4C4C4");
    tick.setAttribute("stroke-width", "3");
    parent.appendChild(tick);
  });

  axisMajorTicks.forEach(function (wn, i) {
    const label = document.createElementNS(SVG_NS, "text");
    
    
    label.setAttribute("class", "ax");
    label.setAttribute("x", xf(wn));
    label.setAttribute("y", labelY);
    label.setAttribute("text-anchor", "middle");
    label.textContent = axisMajorLabels[i];
    parent.appendChild(label);
  });
}

drawSeries("seriesA", "series-b1", "#A5A5A5", b1Wn, b1T, xA, yA);
drawSeries("seriesA", "series-f1", "#5B9BD5", f1Wn, f1T, xA, yA);
drawSeries("seriesA", "series-ala", "#ED7D31", alaAWn, alaAT, xA, yA);
drawSeries("seriesB", "series-b2", "#A5A5A5", b2Wn, b2T, xB, yB);
drawSeries("seriesB", "series-f2", "#5B9BD5", f2Wn, f2T, xB, yB);
drawSeries("seriesB", "series-ala", "#ED7D31", alaBWn, alaBT, xB, yB);
drawAxes("axesA", xA, 1945, 412, 2067);
drawAxes("axesB", xB, 4218, 2628, 4340);
</script>
</body>
</html>
